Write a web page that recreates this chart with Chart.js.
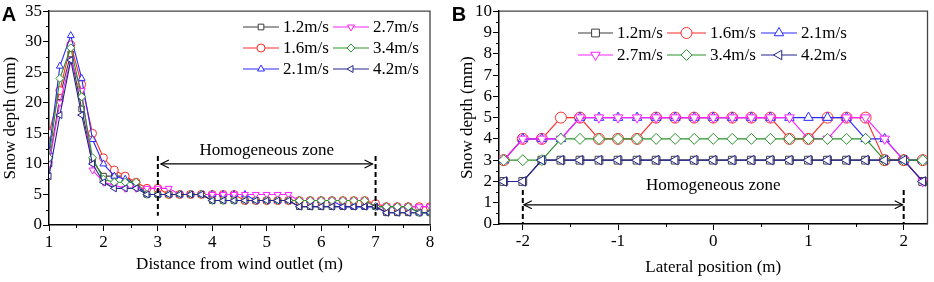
<!DOCTYPE html>
<html><head><meta charset="utf-8">
<script src="https://cdn.jsdelivr.net/npm/chart.js@4/dist/chart.umd.min.js"></script>
<style>
html,body{margin:0;padding:0;background:#fff;width:934px;height:282px;overflow:hidden}
#a{position:absolute;left:0;top:0}
#b{position:absolute;left:450px;top:0}
</style></head><body>
<canvas id="a" width="450" height="282"></canvas>
<canvas id="b" width="484" height="282"></canvas>
<script>
// ---------- data ----------
const seriesLabels = ['1.2m/s','1.6m/s','2.1m/s','2.7m/s','3.4m/s','4.2m/s'];

// Panel A: distance from wind outlet (m)
const distanceA = [1.0,1.2,1.4,1.6,1.8,2.0,2.2,2.4,2.6,2.8,3.0,3.2,3.4,3.6,3.8,4.0,4.2,4.4,4.6,4.8,5.0,5.2,5.4,5.6,5.8,6.0,6.2,6.4,6.6,6.8,7.0,7.2,7.4,7.6,7.8,8.0];
const depthA_12 = [10,21,28,19,10.5,8,8,8,6.5,5,5,5,5,5,5,4,4,4,4,4,4,4,4,3,3,3,3,3,3,3,3,2,2,2,2,2];
const depthA_16 = [15,22,29.5,23,15,11,9,8,7,6,6,5,5,5,5,5,5,5,4,4,4,4,4,4,4,4,4,4,4,4,3.5,3,3,3,3,3];
const depthA_21 = [12,26,31,24,14,10,8,7.5,6.5,5,5,5,5,5,5,5,5,5,5,4,4,4,4,4,4,4,4,3,3,3,3,3,3,3,2,2];
const depthA_27 = [10,20,27,22,9,7,6.5,6,6,6,6,6,5,5,5,5,5,5,5,5,5,5,5,4,4,4,4,4,4,4,3,3,3,3,3,3];
const depthA_34 = [11,24,29,21,11,7.5,7,7,7,5,5,5,5,5,5,4,4,4,4,4,4,4,4,4,4,4,4,4,4,4,3,3,3,3,2,2];
const depthA_42 = [8,18,27,18,10,7,6,6,6,5,5,5,5,5,5,4,4,4,4,4,4,4,4,3,3,3,3,3,3,3,3,2,2,2,2,2];

// Panel B: lateral position (m)
const lateralB = [-2.2,-2.0,-1.8,-1.6,-1.4,-1.2,-1.0,-0.8,-0.6,-0.4,-0.2,0,0.2,0.4,0.6,0.8,1.0,1.2,1.4,1.6,1.8,2.0,2.2];
const depthB_12 = [2,2,3,3,3,3,3,3,3,3,3,3,3,3,3,3,3,3,3,3,3,3,2];
const depthB_16 = [3,4,4,5,5,4,4,4,5,5,5,5,5,5,5,4,4,5,5,5,3,3,3];
const depthB_21 = [3,4,4,4,5,5,5,5,5,5,5,5,5,5,5,5,5,5,5,4,4,3,3];
const depthB_27 = [3,4,4,4,5,5,5,5,5,5,5,5,5,5,5,5,4,4,5,5,4,3,2];
const depthB_34 = [3,3,3,4,4,4,4,4,4,4,4,4,4,4,4,4,4,4,4,4,3,3,3];
const depthB_42 = [2,2,3,3,3,3,3,3,3,3,3,3,3,3,3,3,3,3,3,3,3,3,2];

// axis ticks (labelled ticks, and all tick marks incl. minor)
const ticksA_x = [1,2,3,4,5,6,7,8];
const marksA_x = [1,1.5,2,2.5,3,3.5,4,4.5,5,5.5,6,6.5,7,7.5,8];
const ticksA_y = [0,5,10,15,20,25,30,35];
const marksA_y = [0,2.5,5,7.5,10,12.5,15,17.5,20,22.5,25,27.5,30,32.5,35];
const ticksB_x = [-2,-1,0,1,2];
const marksB_x = [-2,-1.5,-1,-0.5,0,0.5,1,1.5,2];
const ticksB_y = [0,1,2,3,4,5,6,7,8,9,10];
const marksB_y = [0,0.5,1,1.5,2,2.5,3,3.5,4,4.5,5,5.5,6,6.5,7,7.5,8,8.5,9,9.5,10];

// annotation values
const zoneA = [3,7];
const zoneB = [-2,2];
const zoneText = 'Homogeneous zone';

// ---------- styles ----------
const colors = ['#3c3c3c','#ff2a2a','#2a2aff','#ff22ff','#2a922a','#25258f'];
const pStyles = ['rect','circle','triangle','triangle','rectRot','triangle'];
const pRot = [0,0,0,180,0,-90];
const FONT = "'Liberation Serif','Times New Roman',serif";

function makeSets(xs, ys, r){
  return ys.map((arr,i)=>({
    label: seriesLabels[i],
    data: arr.map((v,j)=>({x:xs[j], y:v})),
    order: ys.length-1-i,
    borderColor: colors[i], backgroundColor:'#fff',
    borderWidth: 1.1,
    pointStyle: pStyles[i], pointRotation: pRot[i],
    pointRadius: r, pointBorderWidth: 1, pointBorderColor: colors[i], pointBackgroundColor:'#fff',
    tension: 0
  }));
}

function drawMarker(ctx, style, rot, r, x, y, color){
  ctx.save(); ctx.strokeStyle=color; ctx.fillStyle='#fff'; ctx.lineWidth=1;
  ctx.beginPath();
  if(style==='circle') ctx.arc(x,y,r,0,Math.PI*2);
  else if(style==='rect'){ const s=Math.SQRT1_2*r; ctx.rect(x-s,y-s,2*s,2*s); }
  else if(style==='rectRot'){ ctx.moveTo(x,y-r);ctx.lineTo(x+r,y);ctx.lineTo(x,y+r);ctx.lineTo(x-r,y);ctx.closePath(); }
  else { let a=rot*Math.PI/180; for(let i=0;i<3;i++){ const px=x+Math.sin(a)*r, py=y-Math.cos(a)*r; if(i) ctx.lineTo(px,py); else ctx.moveTo(px,py); a+=2*Math.PI/3; } ctx.closePath(); }
  ctx.fill(); ctx.stroke(); ctx.restore();
}

function legendPlugin(items, r){
  return { id:'customLegend', afterDraw(chart){
    const ctx=chart.ctx;
    items.forEach(it=>{
      const i=it.idx;
      ctx.save();
      ctx.strokeStyle=colors[i]; ctx.lineWidth=1.2;
      ctx.beginPath(); ctx.moveTo(it.x1,it.y); ctx.lineTo(it.x2,it.y); ctx.stroke();
      ctx.restore();
      drawMarker(ctx,pStyles[i],pRot[i],r,(it.x1+it.x2)/2,it.y,colors[i]);
      ctx.save(); ctx.fillStyle='#000'; ctx.font='17px '+FONT; ctx.textBaseline='middle'; ctx.textAlign='left';
      ctx.fillText(seriesLabels[i], it.x2+4, it.y+1);
      ctx.restore();
    });
  }};
}

function isLabelled(labels, v){ return labels.some(l=>Math.abs(l-v)<1e-6); }

function framePlugin(letter, lx, ly, labX, labY){
  return { id:'frame', afterDraw(chart){
    const {ctx, chartArea:a, scales:{x,y}} = chart;
    ctx.save(); ctx.strokeStyle='#444'; ctx.lineWidth=1.3;
    ctx.beginPath(); ctx.moveTo(a.left,a.top); ctx.lineTo(a.right,a.top); ctx.lineTo(a.right,a.bottom); ctx.stroke();
    // short minor ticks
    ctx.strokeStyle='#000'; ctx.lineWidth=1;
    x.ticks.forEach(t=>{ if(!isLabelled(labX,t.value)){ const px=Math.round(x.getPixelForValue(t.value))+0.5; ctx.beginPath(); ctx.moveTo(px,a.bottom); ctx.lineTo(px,a.bottom+3); ctx.stroke(); }});
    y.ticks.forEach(t=>{ if(!isLabelled(labY,t.value)){ const py=Math.round(y.getPixelForValue(t.value))+0.5; ctx.beginPath(); ctx.moveTo(a.left,py); ctx.lineTo(a.left-3,py); ctx.stroke(); }});
    ctx.fillStyle='#000'; ctx.font="bold 20px 'Liberation Sans',Arial,sans-serif"; ctx.textBaseline='middle'; ctx.textAlign='center';
    ctx.fillText(letter, lx, ly);
    ctx.restore();
  }};
}

function zonePlugin(z){
  return { id:'zone', afterDatasetsDraw(chart){
    const {ctx, scales:{x,y}} = chart;
    const x1=x.getPixelForValue(z.range[0]), x2=x.getPixelForValue(z.range[1]);
    const yt=y.getPixelForValue(z.dashTop), yb=y.getPixelForValue(z.dashBottom);
    const ya=y.getPixelForValue(z.arrowY);
    ctx.save();
    ctx.strokeStyle='#000'; ctx.lineWidth=2; ctx.setLineDash([5,3]);
    [x1,x2].forEach(px=>{ ctx.beginPath(); ctx.moveTo(px,yt); ctx.lineTo(px,yb); ctx.stroke(); });
    ctx.setLineDash([]); ctx.lineWidth=1.1;
    const a1=x1+z.inset, a2=x2-z.inset;
    ctx.beginPath(); ctx.moveTo(a1,ya); ctx.lineTo(a2,ya); ctx.stroke();
    ctx.beginPath(); ctx.moveTo(a1+8,ya-4); ctx.lineTo(a1,ya); ctx.lineTo(a1+8,ya+4); ctx.stroke();
    ctx.beginPath(); ctx.moveTo(a2-8,ya-4); ctx.lineTo(a2,ya); ctx.lineTo(a2-8,ya+4); ctx.stroke();
    ctx.fillStyle='#000'; ctx.font='17px '+FONT; ctx.textAlign='center'; ctx.textBaseline='middle';
    ctx.fillText(zoneText, x.getPixelForValue(z.textX), y.getPixelForValue(z.textY));
    ctx.restore();
  }};
}

function axisCfg(min,max,labels,marks,title,opts){
  return {
    type:'linear', min, max,
    afterBuildTicks: (scale)=>{ scale.ticks = marks.map(v=>({value:v})); },
    afterFit: opts.fit,
    ticks:{ autoSkip:false, maxRotation:0, color:'#000', padding: opts.tpad,
      font:{family:FONT, size:17},
      callback:(v)=> isLabelled(labels,v) ? String(v) : '' },
    grid:{ display:true, drawOnChartArea:false, drawTicks:true, tickLength:6,
      tickColor:(c)=> (c.tick && isLabelled(labels,c.tick.value)) ? '#000' : 'rgba(0,0,0,0)' },
    border:{ display:true, color:'#000', width:1.5 },
    title:{ display:true, text:title, color:'#000', font:{family:FONT, size:17}, padding: opts.titlePad }
  };
}

Chart.defaults.animation = false;

new Chart(document.getElementById('a'), {
  type:'line',
  data:{ datasets: makeSets(distanceA,[depthA_12,depthA_16,depthA_21,depthA_27,depthA_34,depthA_42],4) },
  options:{
    responsive:false, devicePixelRatio:1, animation:false,
    layout:{ padding:{left:0,right:20,top:9,bottom:0} },
    plugins:{ legend:{display:false}, tooltip:{enabled:false} },
    scales:{
      x: axisCfg(1,8,ticksA_x,marksA_x,'Distance from wind outlet (m)',{fit:s=>{s.height=57;},tpad:1,titlePad:{top:0,bottom:7}}),
      y: axisCfg(0,35,ticksA_y,marksA_y,'Snow depth (mm)',{fit:s=>{s.width=49;},tpad:1,titlePad:{top:0,bottom:0}})
    }
  },
  plugins:[
    zonePlugin({range:zoneA, dashTop:11.3, dashBottom:1.5, arrowY:10, textX:5, textY:12.2, inset:3}),
    legendPlugin([
      {idx:0,x1:243,x2:279,y:27},{idx:1,x1:243,x2:279,y:48},{idx:2,x1:243,x2:279,y:69},
      {idx:3,x1:333,x2:369,y:27},{idx:4,x1:333,x2:369,y:48},{idx:5,x1:333,x2:369,y:69}
    ],4),
    framePlugin('A',9,15,ticksA_x,ticksA_y)
  ]
});

new Chart(document.getElementById('b'), {
  type:'line',
  data:{ datasets: makeSets(lateralB,[depthB_12,depthB_16,depthB_21,depthB_27,depthB_34,depthB_42],5.5) },
  options:{
    responsive:false, devicePixelRatio:1, animation:false,
    layout:{ padding:{left:0,right:3,top:9,bottom:0} },
    plugins:{ legend:{display:false}, tooltip:{enabled:false} },
    scales:{
      x: axisCfg(-2.25,2.25,ticksB_x,marksB_x,'Lateral position (m)',{fit:s=>{s.height=58;},tpad:1,titlePad:{top:0,bottom:4}}),
      y: axisCfg(0,10,ticksB_y,marksB_y,'Snow depth (mm)',{fit:s=>{s.width=49;},tpad:1,titlePad:{top:7,bottom:0}})
    }
  },
  plugins:[
    zonePlugin({range:zoneB, dashTop:1.6, dashBottom:0, arrowY:0.9, textX:0, textY:1.8, inset:1}),
    legendPlugin([
      {idx:0,x1:128,x2:163,y:33},{idx:1,x1:217,x2:256,y:33},{idx:2,x1:311,x2:347,y:33},
      {idx:3,x1:128,x2:163,y:55},{idx:4,x1:217,x2:256,y:55},{idx:5,x1:311,x2:347,y:55}
    ],5.5),
    framePlugin('B',9,15,ticksB_x,ticksB_y)
  ]
});
</script>
</body></html>
